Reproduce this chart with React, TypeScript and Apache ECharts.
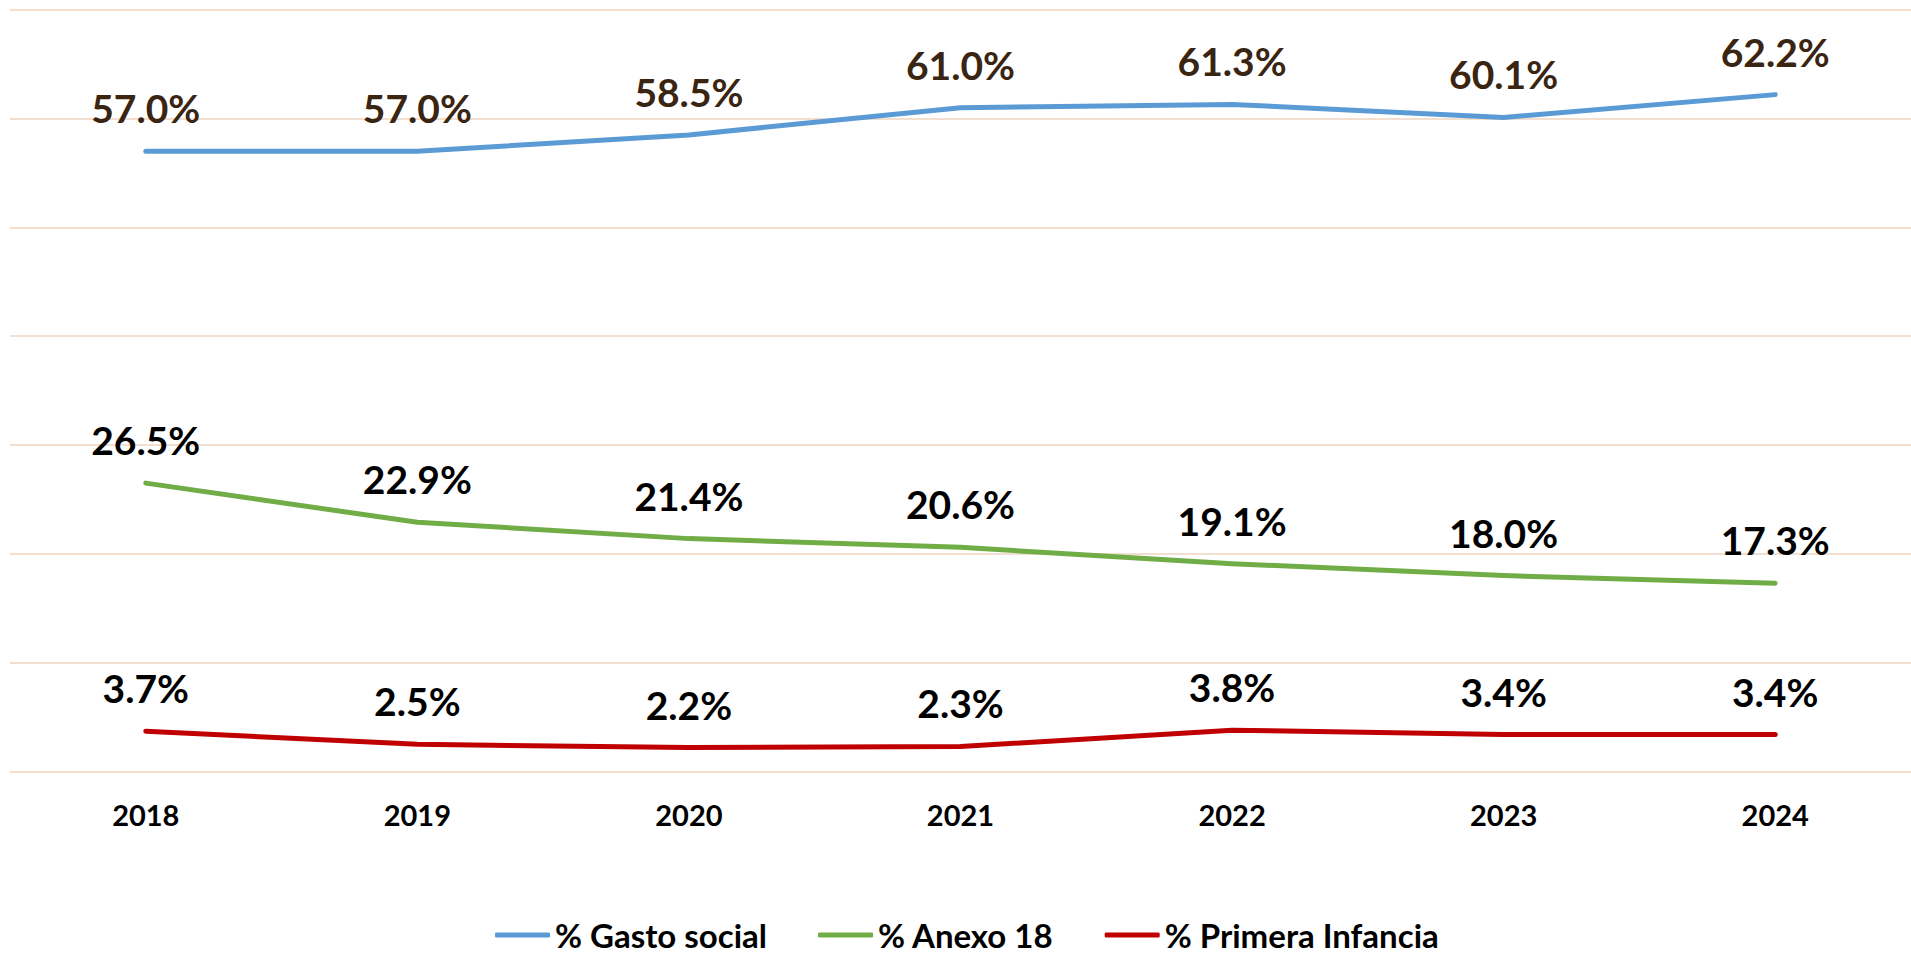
import React, { useEffect, useRef } from "react";
import * as echarts from "echarts";

const years = ["2018", "2019", "2020", "2021", "2022", "2023", "2024"];
const gastoSocial = [57.0, 57.0, 58.5, 61.0, 61.3, 60.1, 62.2];
const anexo18 = [26.5, 22.9, 21.4, 20.6, 19.1, 18.0, 17.3];
const primeraInfancia = [3.7, 2.5, 2.2, 2.3, 3.8, 3.4, 3.4];

const FONT = "Lato, 'Noto Sans', sans-serif";

function mkSeries(name: string, data: number[], color: string, labelColor: string) {
  return {
    name,
    type: "line",
    data,
    symbol: "circle",
    symbolSize: 0,
    showSymbol: true,
    lineStyle: { color, width: 5, cap: "round", join: "round" },
    itemStyle: { color },
    label: {
      show: true,
      position: "top",
      distance: 23,
      formatter: (p: any) => p.value.toFixed(1) + "%",
      fontFamily: FONT,
      fontWeight: "bold",
      fontSize: 39,
      lineHeight: 40,
      color: labelColor,
    },
  };
}

export default function App() {
  const ref = useRef<HTMLDivElement>(null);
  useEffect(() => {
    if (!ref.current) return;
    const chart = echarts.init(ref.current, null, { renderer: "svg" });
    chart.setOption({
      animation: false,
      backgroundColor: "#ffffff",
      textStyle: { fontFamily: FONT },
      grid: { left: 10, right: -18, top: 9.75, bottom: 187.5, containLabel: false },
      xAxis: {
        type: "category",
        data: years,
        boundaryGap: true,
        axisLine: { show: false },
        axisTick: { show: false },
        axisLabel: {
          margin: 28,
          fontFamily: FONT,
          fontWeight: "bold",
          fontSize: 29,
          lineHeight: 29,
          color: "#000000",
        },
      },
      yAxis: {
        type: "value",
        min: 0,
        max: 70,
        interval: 10,
        axisLabel: { show: false },
        axisLine: { show: false },
        axisTick: { show: false },
        splitLine: { lineStyle: { color: "#F3DFCF", width: 2 } },
      },
      legend: {
        left: 490,
        top: 913,
        icon: "roundRect",
        itemWidth: 55,
        itemHeight: 5,
        itemGap: 51,
        textStyle: {
          fontFamily: FONT,
          fontWeight: "bold",
          fontSize: 33,
          lineHeight: 34,
          color: "#000000",
        },
      },
      series: [
        mkSeries("% Gasto social", gastoSocial, "#5B9BD5", "#3A2412"),
        mkSeries("% Anexo 18", anexo18, "#70AD47", "#000000"),
        mkSeries("% Primera Infancia", primeraInfancia, "#C00000", "#000000"),
      ],
    });
    return () => chart.dispose();
  }, []);
  return (
    <div
      ref={ref}
      style={{ position: "fixed", left: 0, top: 0, width: 1911, height: 959 }}
    />
  );
}
